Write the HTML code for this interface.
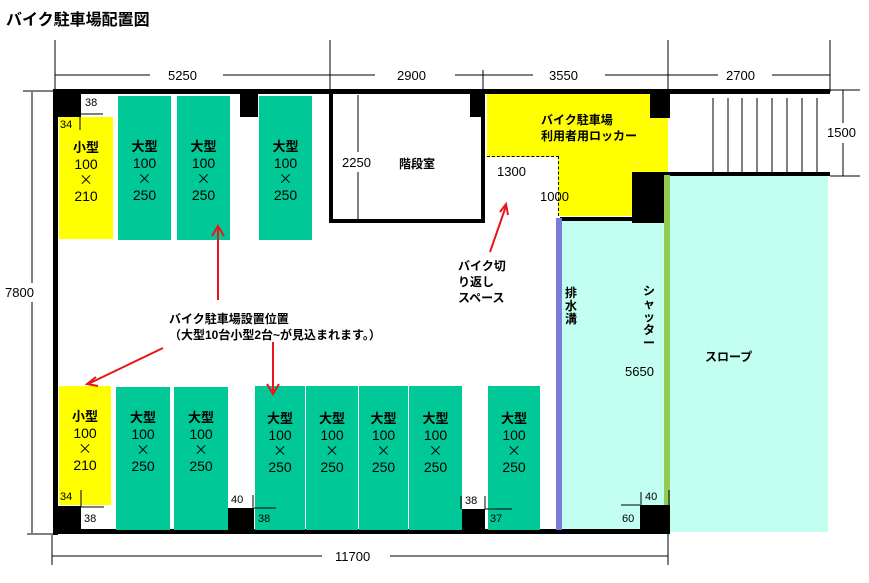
<!DOCTYPE html>
<html><head><meta charset="utf-8"><style>
body{margin:0;width:869px;height:583px;background:#fff;position:relative;overflow:hidden;font-family:"Liberation Sans","Noto Sans CJK JP",sans-serif;color:#000}
div{position:absolute;box-sizing:border-box}
.b{background:#000}
.y{background:#ffff00}
.g{background:#00c896}
.t{font-size:12px;font-weight:bold;white-space:nowrap}
.sp{text-align:center;font-size:14px;line-height:16px;padding-top:22px}
.sp b{font-size:13px}
.sp i{font-style:normal;font-family:"Noto Sans CJK JP",sans-serif;font-size:14px}
</style></head><body>
<div class="t" style="left:6px;top:6px;font-size:16px">バイク駐車場配置図</div>

<div style="left:668px;top:176px;width:160px;height:356px;background:#c3fff0"></div>
<div style="left:560px;top:218px;width:108px;height:314px;background:#c3fff0"></div>
<div class="y" style="left:487px;top:93px;width:181px;height:64px"></div>
<div class="y" style="left:558px;top:156px;width:110px;height:60px"></div>
<div style="left:487px;top:156px;width:72px;border-top:1px dashed #000"></div>
<div style="left:558px;top:156px;height:60px;border-left:1px dashed #000"></div>

<div class="b" style="left:53px;top:89px;width:777px;height:5px"></div>
<div class="b" style="left:53px;top:89px;width:5px;height:446px"></div>
<div class="b" style="left:53px;top:529px;width:617px;height:5px"></div>
<div class="b" style="left:664px;top:172px;width:166px;height:4px"></div>
<div class="b" style="left:329px;top:92px;width:4px;height:131px"></div>
<div class="b" style="left:481px;top:92px;width:4px;height:131px"></div>
<div class="b" style="left:329px;top:219px;width:156px;height:4px"></div>
<div class="b" style="left:560px;top:217px;width:74px;height:4px"></div>
<div class="b" style="left:53px;top:89px;width:28px;height:28px"></div>
<div class="b" style="left:240px;top:92px;width:18px;height:25px"></div>
<div class="b" style="left:470px;top:92px;width:15px;height:25px"></div>
<div class="b" style="left:650px;top:92px;width:20px;height:26px"></div>
<div class="b" style="left:632px;top:172px;width:35px;height:51px"></div>
<div class="b" style="left:53px;top:506px;width:28px;height:28px"></div>
<div class="b" style="left:227px;top:508px;width:27px;height:26px"></div>
<div class="b" style="left:461px;top:509px;width:24px;height:25px"></div>
<div class="b" style="left:640px;top:505px;width:30px;height:29px"></div>
<div style="left:556px;top:218px;width:6px;height:312px;background:#7b7bdb"></div>
<div style="left:664px;top:175px;width:6px;height:330px;background:#8fcc50"></div>

<div class="y sp" style="left:59px;top:117px;width:54px;height:122px;padding-top:22px"><b>小型</b><br>100<br><i>×</i><br>210</div>
<div class="g sp" style="left:118px;top:96px;width:53px;height:144px;padding-top:42px"><b>大型</b><br>100<br><i>×</i><br>250</div>
<div class="g sp" style="left:177px;top:96px;width:53px;height:144px;padding-top:42px"><b>大型</b><br>100<br><i>×</i><br>250</div>
<div class="g sp" style="left:259px;top:96px;width:53px;height:144px;padding-top:42px"><b>大型</b><br>100<br><i>×</i><br>250</div>
<div class="y sp" style="left:59px;top:386px;width:52px;height:119px;padding-top:22px"><b>小型</b><br>100<br><i>×</i><br>210</div>
<div class="g sp" style="left:116px;top:387px;width:54px;height:143px;padding-top:22px"><b>大型</b><br>100<br><i>×</i><br>250</div>
<div class="g sp" style="left:174px;top:387px;width:54px;height:143px;padding-top:22px"><b>大型</b><br>100<br><i>×</i><br>250</div>
<div class="g sp" style="left:255px;top:386px;width:50px;height:144px;padding-top:24px"><b>大型</b><br>100<br><i>×</i><br>250</div>
<div class="g sp" style="left:306px;top:386px;width:52px;height:144px;padding-top:24px"><b>大型</b><br>100<br><i>×</i><br>250</div>
<div class="g sp" style="left:359px;top:386px;width:49px;height:144px;padding-top:24px"><b>大型</b><br>100<br><i>×</i><br>250</div>
<div class="g sp" style="left:409px;top:386px;width:53px;height:144px;padding-top:24px"><b>大型</b><br>100<br><i>×</i><br>250</div>
<div class="g sp" style="left:488px;top:386px;width:52px;height:144px;padding-top:24px"><b>大型</b><br>100<br><i>×</i><br>250</div>

<div style="left:85px;top:97px;font-size:11px">38</div>
<div style="left:60px;top:119px;font-size:11px">34</div>
<div style="left:60px;top:491px;font-size:11px">34</div>
<div style="left:84px;top:513px;font-size:11px">38</div>
<div style="left:231px;top:494px;font-size:11px">40</div>
<div style="left:258px;top:513px;font-size:11px">38</div>
<div style="left:465px;top:495px;font-size:11px">38</div>
<div style="left:490px;top:513px;font-size:11px">37</div>
<div style="left:645px;top:491px;font-size:11px">40</div>
<div style="left:622px;top:513px;font-size:11px">60</div>
<div class="t" style="left:168px;top:68px;font-size:13px;font-weight:normal">5250</div>
<div class="t" style="left:397px;top:68px;font-size:13px;font-weight:normal">2900</div>
<div class="t" style="left:549px;top:68px;font-size:13px;font-weight:normal">3550</div>
<div class="t" style="left:726px;top:68px;font-size:13px;font-weight:normal">2700</div>
<div class="t" style="left:827px;top:125px;font-size:13px;font-weight:normal">1500</div>
<div class="t" style="left:5px;top:285px;font-size:13px;font-weight:normal">7800</div>
<div class="t" style="left:335px;top:549px;font-size:13px;font-weight:normal">11700</div>
<div class="t" style="left:342px;top:155px;font-size:13px;font-weight:normal">2250</div>
<div class="t" style="left:399px;top:155px">階段室</div>
<div class="t" style="left:497px;top:164px;font-size:13px;font-weight:normal">1300</div>
<div class="t" style="left:540px;top:189px;font-size:13px;font-weight:normal">1000</div>
<div class="t" style="left:541px;top:112px;line-height:16px">バイク駐車場<br>利用者用ロッカー</div>
<div class="t" style="left:458px;top:258px;line-height:16px">バイク切<br>り返し<br>スペース</div>
<div class="t" style="left:169px;top:311px;line-height:16px">バイク駐車場設置位置<br>（大型10台小型2台~が見込まれます。）</div>
<div class="t" style="left:565px;top:287px;width:14px;line-height:13px;white-space:normal">排水溝</div>
<div class="t" style="left:643px;top:285px;width:14px;line-height:13px;white-space:normal">シャッター</div>
<div class="t" style="left:625px;top:364px;font-size:13px;font-weight:normal">5650</div>
<div class="t" style="left:705px;top:348px">スロープ</div>

<svg style="position:absolute;left:0;top:0" width="869" height="583">
<g stroke="#000" stroke-width="1">
<line x1="713" y1="98" x2="713" y2="172"/><line x1="728" y1="98" x2="728" y2="172"/><line x1="742" y1="98" x2="742" y2="172"/><line x1="757" y1="98" x2="757" y2="172"/><line x1="772" y1="98" x2="772" y2="172"/><line x1="787" y1="98" x2="787" y2="172"/><line x1="802" y1="98" x2="802" y2="172"/><line x1="817" y1="98" x2="817" y2="172"/>
<line x1="55" y1="75" x2="150" y2="75"/><line x1="223" y1="75" x2="375" y2="75"/><line x1="455" y1="75" x2="533" y2="75"/><line x1="605" y1="75" x2="718" y2="75"/><line x1="772" y1="75" x2="830" y2="75"/>
<line x1="55" y1="40" x2="55" y2="92"/><line x1="330" y1="40" x2="330" y2="130"/><line x1="483" y1="70" x2="483" y2="92"/><line x1="668" y1="40" x2="668" y2="92"/><line x1="830" y1="40" x2="830" y2="92"/>
<line x1="23" y1="91" x2="55" y2="91"/><line x1="32" y1="92" x2="32" y2="283"/><line x1="32" y1="302" x2="32" y2="533"/><line x1="27" y1="534" x2="55" y2="534"/>
<line x1="52" y1="556" x2="322" y2="556"/><line x1="390" y1="556" x2="668" y2="556"/><line x1="52" y1="535" x2="52" y2="565"/><line x1="668" y1="530" x2="668" y2="565"/>
<line x1="830" y1="90" x2="860" y2="90"/><line x1="830" y1="176" x2="860" y2="176"/><line x1="843" y1="90" x2="843" y2="123"/><line x1="843" y1="143" x2="843" y2="176"/>
<line x1="358" y1="95" x2="358" y2="152"/><line x1="358" y1="172" x2="358" y2="220"/>
<line x1="81" y1="114" x2="103" y2="114"/><line x1="80" y1="114" x2="80" y2="130"/>
<line x1="81" y1="507" x2="104" y2="507"/><line x1="81" y1="490" x2="81" y2="507"/>
<line x1="254" y1="508" x2="276" y2="508"/><line x1="253" y1="495" x2="253" y2="508"/>
<line x1="485" y1="509" x2="512" y2="509"/><line x1="485" y1="496" x2="485" y2="509"/><line x1="461" y1="496" x2="461" y2="509"/>
<line x1="621" y1="505" x2="640" y2="505"/><line x1="641" y1="492" x2="641" y2="505"/><line x1="669" y1="490" x2="669" y2="505"/>
</g>
<g stroke="#e8161c" stroke-width="2" fill="none">
<line x1="218" y1="300" x2="218" y2="228"/><polyline points="212,236 218,226 224,236"/>
<line x1="163" y1="348" x2="88" y2="384"/><polyline points="96,377 87,384 98,386"/>
<line x1="273" y1="342" x2="273" y2="392"/><polyline points="267,384 273,394 279,384"/>
<line x1="490" y1="252" x2="506" y2="206"/><polyline points="500,212 506,204 508,215"/>
</g>
</svg>
</body></html>
